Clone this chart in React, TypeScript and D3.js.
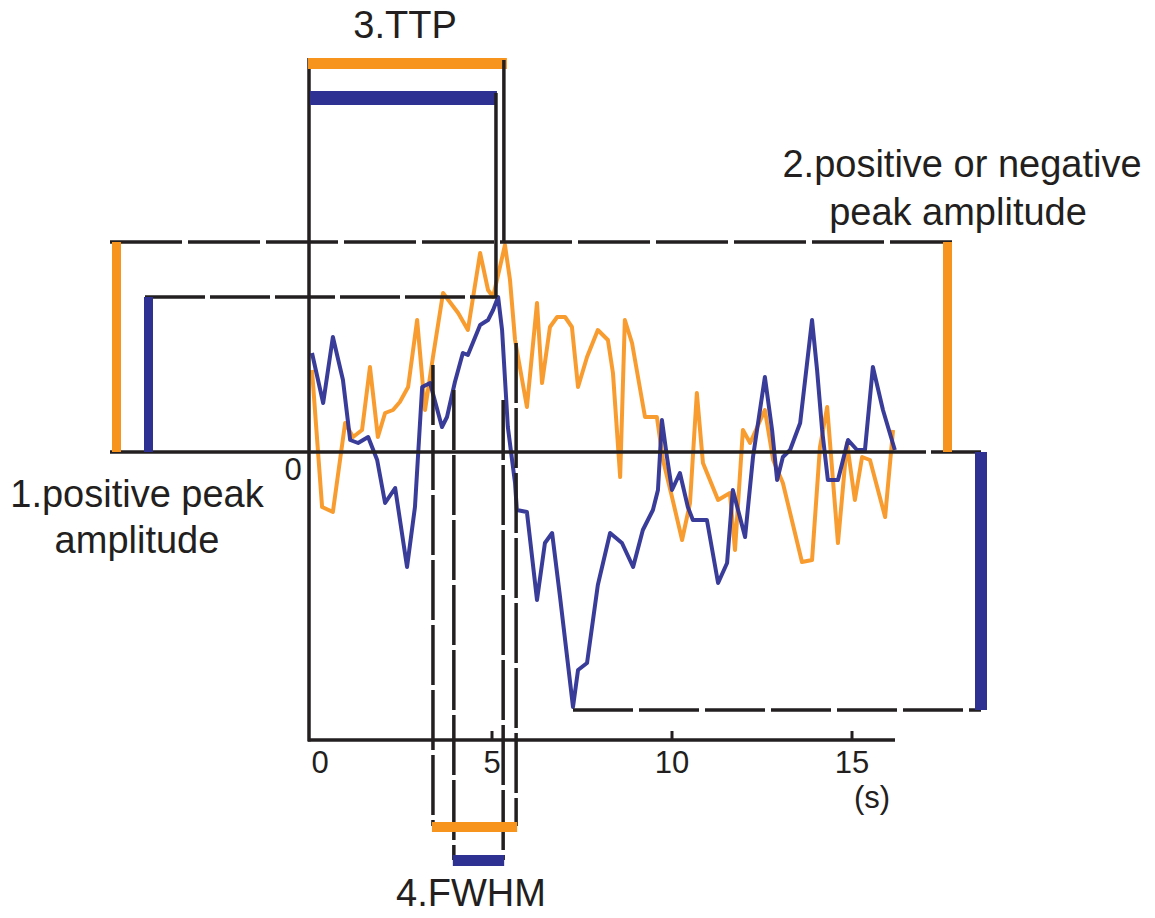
import React from "react";
import * as d3 from "d3";

// Two response time courses (time in s, signal in arbitrary units)
const orangeTrace: [number, number][] = [
  [0.0, 0.82], [0.28, -0.55], [0.58, -0.6], [0.92, 0.29], [1.14, 0.15], [1.39, 0.22],
  [1.61, 0.85], [1.83, 0.15], [2.03, 0.39], [2.25, 0.42], [2.44, 0.5], [2.67, 0.65],
  [2.92, 1.32], [3.14, 0.42], [3.36, 0.95], [3.64, 1.59], [4.06, 1.39], [4.33, 1.22],
  [4.67, 1.99], [4.89, 1.62], [5.03, 1.55], [5.36, 2.07], [5.5, 1.72], [5.64, 1.12],
  [5.97, 0.45], [6.25, 1.49], [6.39, 0.69], [6.61, 1.25], [6.81, 1.35], [7.03, 1.35],
  [7.22, 1.25], [7.39, 0.65], [7.64, 0.95], [7.94, 1.22], [8.22, 1.12], [8.36, 0.79],
  [8.56, -0.25], [8.69, 1.32], [8.89, 1.09], [9.25, 0.35], [9.58, 0.35], [9.75, -0.08],
  [10.0, -0.45], [10.28, -0.88], [10.5, -0.51], [10.69, 0.59], [10.86, -0.11], [11.28, -0.48],
  [11.61, -0.41], [11.75, -0.98], [11.97, 0.22], [12.17, 0.09], [12.58, 0.42], [12.81, -0.08],
  [13.08, -0.31], [13.61, -1.1], [13.89, -1.08], [14.11, 0.05], [14.31, 0.45], [14.61, -0.91],
  [14.86, 0.09], [15.08, -0.48], [15.28, -0.05], [15.5, -0.08], [15.92, -0.65], [16.14, 0.22],
];

const blueTrace: [number, number][] = [
  [0.0, 0.99], [0.31, 0.49], [0.58, 1.15], [0.86, 0.72], [1.06, 0.12], [1.28, 0.09],
  [1.56, 0.15], [1.81, -0.08], [2.03, -0.51], [2.31, -0.36], [2.64, -1.15], [2.86, -0.55],
  [3.06, 0.65], [3.28, 0.69], [3.61, 0.25], [3.75, 0.35], [3.97, 0.7], [4.19, 0.99],
  [4.33, 0.97], [4.67, 1.27], [4.89, 1.32], [5.03, 1.42], [5.17, 1.55], [5.28, 1.22],
  [5.44, 0.25], [5.64, -0.31], [5.69, -0.58], [5.97, -0.6], [6.25, -1.48], [6.47, -0.91],
  [6.67, -0.81], [6.89, -1.45], [7.25, -2.55], [7.39, -2.18], [7.64, -2.11], [7.94, -1.33],
  [8.28, -0.81], [8.61, -0.91], [8.92, -1.15], [9.19, -0.78], [9.47, -0.58], [9.61, -0.38],
  [9.72, 0.32], [9.86, -0.05], [10.0, -0.38], [10.22, -0.21], [10.44, -0.55], [10.58, -0.68],
  [10.97, -0.68], [11.28, -1.31], [11.53, -1.11], [11.69, -0.38], [12.03, -0.85], [12.25, -0.05],
  [12.58, 0.75], [12.78, 0.22], [12.92, -0.28], [13.08, -0.05], [13.28, 0.02], [13.56, 0.29],
  [13.89, 1.32], [14.03, 0.82], [14.17, 0.22], [14.33, -0.28], [14.61, -0.28], [14.89, 0.12],
  [15.14, 0.02], [15.36, 0.02], [15.58, 0.85], [15.86, 0.42], [16.19, 0.02],
];

// Measured response parameters
const orangePeak = 2.1;
const bluePeak = 1.55;
const blueTrough = -2.58;
const blueTroughTime = 7.25;
const orangeTTP = 5.33;
const blueTTP = 5.11;
const orangeFWHM = [3.36, 5.67];
const blueFWHM = [3.94, 5.31];
const orangeFWHMLevel = [0.87, 1.09];
const blueFWHMLevel = [0.62, 0.52];

const xTicks = [0, 5, 10, 15];

const ORANGE = "#F7941D";
const BLUE = "#2E3192";
const INK = "#231F20";

export default function App() {
  const W = 1155;
  const H = 918;
  const x = d3.scaleLinear().domain([0, 16]).range([312, 888]);
  const y = d3.scaleLinear().domain([0, 1]).range([452, 352]);
  const line = d3
    .line<[number, number]>()
    .x((d) => x(d[0]))
    .y((d) => y(d[1]));

  const axisY = 740;
  const axisX = 309;
  const lw = 3.5;
  const font = "'Liberation Sans', Arial, Helvetica, sans-serif";

  return (
    <svg
      width={W}
      height={H}
      style={{ position: "absolute", left: 0, top: 0 }}
      fontFamily={font}
    >
      <rect width={W} height={H} fill="#fff" />

      {/* traces */}
      <path d={line(orangeTrace) || ""} fill="none" stroke={ORANGE} strokeWidth={4} strokeLinejoin="round" opacity={0.92} />
      <path d={line(blueTrace) || ""} fill="none" stroke={BLUE} strokeWidth={4} strokeLinejoin="round" opacity={0.95} />

      {/* axes */}
      <line x1={axisX} x2={axisX} y1={58} y2={axisY + 1.5} stroke={INK} strokeWidth={lw} />
      <line x1={axisX - 1} x2={895} y1={axisY} y2={axisY} stroke={INK} strokeWidth={lw} />
      {xTicks.filter((t) => t > 0).map((t) => (
        <line key={"tk" + t} x1={x(t)} x2={x(t)} y1={axisY} y2={axisY - 9} stroke={INK} strokeWidth={3} />
      ))}
      {xTicks.map((t) => (
        <text key={"tl" + t} x={x(t) + (t === 0 ? 8 : 0)} y={773} fontSize={31} textAnchor="middle" fill={INK}>
          {t}
        </text>
      ))}
      <text x={872} y={808} fontSize={31} textAnchor="middle" fill={INK}>(s)</text>

      {/* zero line */}
      <line x1={110} x2={926} y1={y(0)} y2={y(0)} stroke={INK} strokeWidth={lw} />
      <line x1={931} x2={981} y1={y(0)} y2={y(0)} stroke={INK} strokeWidth={lw} />
      <text x={293} y={480} fontSize={31} textAnchor="middle" fill={INK}>0</text>

      {/* peak amplitude markers */}
      <line x1={110} x2={952} y1={y(orangePeak)} y2={y(orangePeak)} stroke={INK} strokeWidth={lw} strokeDasharray="72 6" />
      <rect x={112} width={9} y={y(orangePeak)} height={y(0) - y(orangePeak)} fill={ORANGE} />
      <rect x={943} width={9} y={y(orangePeak)} height={y(0) - y(orangePeak)} fill={ORANGE} />

      <line x1={145} x2={x(blueTTP) + 1} y1={y(bluePeak)} y2={y(bluePeak)} stroke={INK} strokeWidth={lw} strokeDasharray="60 5" />
      <rect x={144} width={9} y={y(bluePeak)} height={y(0) - y(bluePeak)} fill={BLUE} />

      <line x1={x(blueTroughTime)} x2={981} y1={y(blueTrough)} y2={y(blueTrough)} stroke={INK} strokeWidth={lw} strokeDasharray="60 6" />
      <rect x={975} width={12} y={y(0)} height={y(blueTrough) - y(0)} fill={BLUE} />

      {/* time to peak */}
      <rect x={308} width={x(orangeTTP) + 3 - 308} y={58} height={11} fill={ORANGE} />
      <rect x={310} width={x(blueTTP) + 1 - 310} y={91} height={14} fill={BLUE} />
      <line x1={x(orangeTTP)} x2={x(orangeTTP)} y1={60} y2={y(orangePeak)} stroke={INK} strokeWidth={lw} />
      <line x1={x(blueTTP)} x2={x(blueTTP)} y1={93} y2={y(bluePeak)} stroke={INK} strokeWidth={lw} />

      {/* full width at half maximum */}
      {orangeFWHM.map((t, i) => (
        <line key={"of" + i} x1={x(t)} x2={x(t)} y1={y(orangeFWHMLevel[i])} y2={826} stroke={INK} strokeWidth={lw} strokeDasharray="60 5" />
      ))}
      {blueFWHM.map((t, i) => (
        <line key={"bf" + i} x1={x(t)} x2={x(t)} y1={y(blueFWHMLevel[i])} y2={860} stroke={INK} strokeWidth={lw} strokeDasharray="60 5" />
      ))}
      <rect x={x(orangeFWHM[0]) - 1} width={x(orangeFWHM[1]) - x(orangeFWHM[0]) + 2} y={822} height={10} fill={ORANGE} />
      <rect x={x(blueFWHM[0]) - 1} width={x(blueFWHM[1]) - x(blueFWHM[0]) + 2} y={855} height={11} fill={BLUE} />

      {/* labels */}
      <text x={405} y={38} fontSize={38} textAnchor="middle" fill={INK}>3.TTP</text>
      <text x={962} y={177} fontSize={38} textAnchor="middle" fill={INK}>2.positive or negative</text>
      <text x={958} y={225} fontSize={38} textAnchor="middle" fill={INK}>peak amplitude</text>
      <text x={137} y={507} fontSize={38} textAnchor="middle" fill={INK}>1.positive peak</text>
      <text x={137} y={553} fontSize={38} textAnchor="middle" fill={INK}>amplitude</text>
      <text x={471} y={906} fontSize={38} textAnchor="middle" fill={INK}>4.FWHM</text>
    </svg>
  );
}
